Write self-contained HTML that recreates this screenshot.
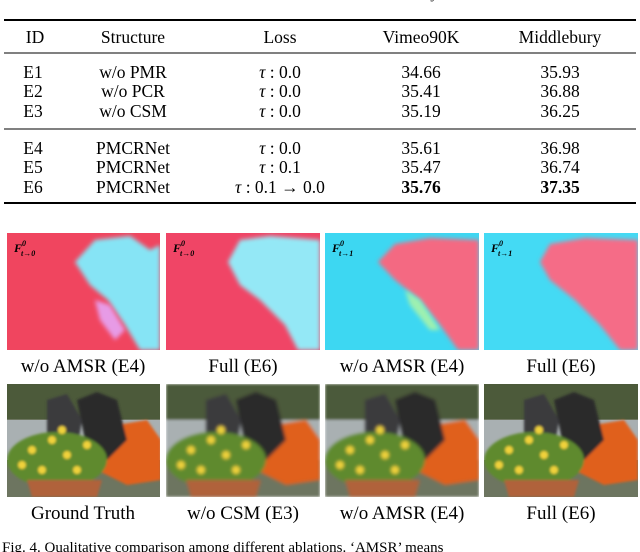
<!DOCTYPE html>
<html><head><meta charset="utf-8"><style>
body{margin:0;width:640px;height:552px;overflow:hidden;background:#fff;font-family:"Liberation Serif",serif;color:#111}
svg{position:absolute;left:0;top:0}
</style></head><body>
<svg width="640" height="552" font-family="Liberation Serif, serif">
<defs>
<filter id="bl" x="-10%" y="-10%" width="120%" height="120%"><feGaussianBlur stdDeviation="2"/></filter>
<filter id="bl2"><feGaussianBlur stdDeviation="1.2"/></filter>
<clipPath id="c1"><rect x="7" y="233" width="153" height="117"/></clipPath>
<clipPath id="c2"><rect x="166" y="233" width="154" height="117"/></clipPath>
<clipPath id="c3"><rect x="325" y="233" width="154" height="117"/></clipPath>
<clipPath id="c4"><rect x="484" y="233" width="154" height="117"/></clipPath>
<clipPath id="p1"><rect x="7" y="384" width="153" height="113"/></clipPath>
<clipPath id="p2"><rect x="166" y="384" width="154" height="113"/></clipPath>
<clipPath id="p3"><rect x="325" y="384" width="154" height="113"/></clipPath>
<clipPath id="p4"><rect x="484" y="384" width="154" height="113"/></clipPath>
</defs>
<text x="5" y="-2" font-size="17" fill="#444">Table: ablation results on PSNR for Vimeo90K and Middlebury benchmarks ....</text>
<g font-size="17.5" text-anchor="middle">
<line x1="4" y1="20" x2="636" y2="20" stroke="#000" stroke-width="2"/>
<line x1="4" y1="53" x2="636" y2="53" stroke="#000" stroke-width="1"/>
<line x1="4" y1="129" x2="636" y2="129" stroke="#000" stroke-width="1"/>
<line x1="4" y1="203" x2="636" y2="203" stroke="#000" stroke-width="2"/>
<g>
<text x="35" y="43">ID</text><text x="133" y="43">Structure</text><text x="280" y="43">Loss</text><text x="421" y="43">Vimeo90K</text><text x="560" y="43">Middlebury</text></g>
<g><text x="33" y="78">E1</text><text x="133" y="78">w/o PMR</text><text x="280" y="78"><tspan font-style="italic">τ</tspan> : 0.0</text><text x="421" y="78">34.66</text><text x="560" y="78">35.93</text></g>
<g><text x="33" y="97">E2</text><text x="133" y="97">w/o PCR</text><text x="280" y="97"><tspan font-style="italic">τ</tspan> : 0.0</text><text x="421" y="97">35.41</text><text x="560" y="97">36.88</text></g>
<g><text x="33" y="117">E3</text><text x="133" y="117">w/o CSM</text><text x="280" y="117"><tspan font-style="italic">τ</tspan> : 0.0</text><text x="421" y="117">35.19</text><text x="560" y="117">36.25</text></g>
<g><text x="33" y="154">E4</text><text x="133" y="154">PMCRNet</text><text x="280" y="154"><tspan font-style="italic">τ</tspan> : 0.0</text><text x="421" y="154">35.61</text><text x="560" y="154">36.98</text></g>
<g><text x="33" y="173">E5</text><text x="133" y="173">PMCRNet</text><text x="280" y="173"><tspan font-style="italic">τ</tspan> : 0.1</text><text x="421" y="173">35.47</text><text x="560" y="173">36.74</text></g>
<g><text x="33" y="193">E6</text><text x="133" y="193">PMCRNet</text><text x="280" y="193"><tspan font-style="italic">τ</tspan> : 0.1 → 0.0</text><text x="421" y="193" font-weight="bold">35.76</text><text x="560" y="193" font-weight="bold">37.35</text></g>
</g>

<g clip-path="url(#c1)">
<rect x="7" y="233" width="153" height="117" fill="#f0455f"/>
<path d="M75 262 L95 240 L130 236 L150 250 L160 245 L160 350 L140 350 L125 325 L108 300 L90 285 Z" fill="#86e4f5" filter="url(#bl)"/>
<path d="M95 300 L110 305 L125 330 L115 340 L100 320 Z" fill="#e79be6" filter="url(#bl)"/>
<text x="14" y="252" font-size="12" font-weight="bold" font-style="italic">F<tspan font-size="8" dy="-6">0</tspan><tspan font-size="8" dx="-5" dy="10">t→0</tspan></text>
</g>
<g clip-path="url(#c2)">
<rect x="166" y="233" width="154" height="117" fill="#f04566"/>
<path d="M228 262 L240 240 L270 236 L320 240 L320 350 L298 350 L285 325 L260 300 L240 285 Z" fill="#94e8f6" filter="url(#bl)"/>
<text x="173" y="252" font-size="12" font-weight="bold" font-style="italic">F<tspan font-size="8" dy="-6">0</tspan><tspan font-size="8" dx="-5" dy="10">t→0</tspan></text>
</g>
<g clip-path="url(#c3)">
<rect x="325" y="233" width="154" height="117" fill="#3dd7f2"/>
<path d="M378 262 L395 244 L430 238 L479 240 L479 350 L458 350 L440 325 L420 300 L395 280 Z" fill="#f46982" filter="url(#bl)"/>
<path d="M405 290 L420 300 L440 330 L430 330 L410 305 Z" fill="#9ef0b0" filter="url(#bl)"/>
<text x="332" y="252" font-size="12" font-weight="bold" font-style="italic">F<tspan font-size="8" dy="-6">0</tspan><tspan font-size="8" dx="-5" dy="10">t→1</tspan></text>
</g>
<g clip-path="url(#c4)">
<rect x="484" y="233" width="154" height="117" fill="#44daf4"/>
<path d="M540 262 L550 244 L585 238 L638 240 L638 350 L620 350 L600 325 L575 300 L550 280 Z" fill="#f56c87" filter="url(#bl)"/>
<text x="491" y="252" font-size="12" font-weight="bold" font-style="italic">F<tspan font-size="8" dy="-6">0</tspan><tspan font-size="8" dx="-5" dy="10">t→1</tspan></text>
</g>

<g font-size="19" text-anchor="middle">
<text x="83" y="372">w/o AMSR (E4)</text><text x="243" y="372">Full (E6)</text><text x="402" y="372">w/o AMSR (E4)</text><text x="561" y="372">Full (E6)</text>
</g>

<g font-size="19" text-anchor="middle">
<text x="83" y="519">Ground Truth</text><text x="243" y="519">w/o CSM (E3)</text><text x="402" y="519">w/o AMSR (E4)</text><text x="561" y="519">Full (E6)</text>
</g>
<text x="2" y="552" font-size="15">Fig. 4.  Qualitative comparison among different ablations. ‘AMSR’ means</text>
</svg>
<script>
const panels=[["photo-ground-truth",7,"p1",0],["photo-wo-csm",166,"p2",1],["photo-wo-amsr",325,"p3",0.5],["photo-full",484,"p4",0]];
const svg=document.querySelector('svg');const NS="http://www.w3.org/2000/svg";
function mk(parent,tag,attrs){const e=document.createElementNS(NS,tag);for(const k in attrs)e.setAttribute(k,attrs[k]);parent.appendChild(e);return e;}
panels.forEach(([name,x,clip,blur])=>{
 const g=document.createElementNS(NS,'g');
 
 
 g.setAttribute('clip-path','url(#'+clip+')');
 mk(g,'rect',{x:x,y:384,width:154,height:113,fill:'#6d7560'});
 mk(g,'rect',{x:x,y:384,width:154,height:35,fill:'#4c5a3a'});
 mk(g,'rect',{x:x,y:420,width:154,height:40,fill:'#a9b0b2'});
 const s=mk(g,'g',{filter:'url(#bl2)'});
 mk(s,'path',{d:`M${x+80} 440 L${x+110} 425 L${x+140} 420 L${x+154} 440 L${x+154} 480 L${x+120} 485 L${x+90} 470 Z`,fill:'#e0601e'});
 mk(s,'path',{d:`M${x+70} 400 L${x+90} 392 L${x+110} 400 L${x+120} 440 L${x+100} 460 L${x+80} 450 Z`,fill:'#2a2a2c'});
 mk(s,'path',{d:`M${x+40} 400 L${x+60} 394 L${x+75} 420 L${x+70} 450 L${x+40} 445 Z`,fill:'#3a3a3e'});
 mk(s,'ellipse',{cx:x+50,cy:460,rx:50,ry:28,fill:'#5e8a2e'});
 [[25,450],[45,440],[60,455],[80,445],[35,470],[70,470],[15,465],[55,430]].forEach(([dx,y])=>mk(s,'circle',{cx:x+dx,cy:y,r:4,fill:'#f0d23a'}));
 mk(s,'path',{d:`M${x+20} 480 L${x+95} 480 L${x+90} 497 L${x+25} 497 Z`,fill:'#b0623a'});
 if(blur) g.setAttribute('filter','url(#bl2)');
 svg.appendChild(g);
});
</script>
</body></html>
